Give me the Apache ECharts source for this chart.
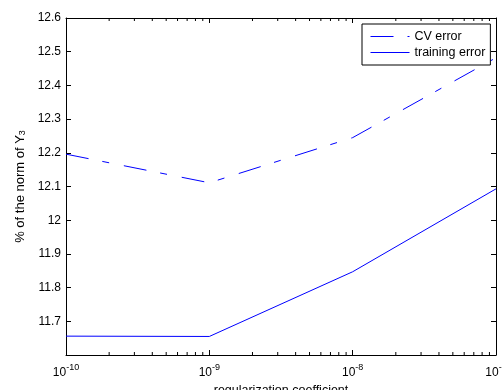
<!DOCTYPE html>
<html>
<head>
<meta charset="utf-8">
<script src="https://cdn.jsdelivr.net/npm/echarts@6/dist/echarts.min.js"></script>
<style>
  html, body { margin: 0; padding: 0; background: #fff; }
  #main { width: 502px; height: 390px; }
</style>
</head>
<body>
<div id="main"></div>
<script>
// regularization coefficients (x, log scale)
const coefficients = [1e-10, 1e-9, 1e-8, 1e-7];
// % of the norm of Y3
const cvError = [12.196, 12.111, 12.245, 12.482];
const trainingError = [11.656, 11.655, 11.847, 12.093];
// y axis range and step
const yMin = 11.6;
const yMax = 12.6;
const yStep = 0.1;
// minor ticks of the log axis
const minorTicks = [
  2e-10, 3e-10, 4e-10, 5e-10, 6e-10, 7e-10, 8e-10, 9e-10,
  2e-9, 3e-9, 4e-9, 5e-9, 6e-9, 7e-9, 8e-9, 9e-9,
  2e-8, 3e-8, 4e-8, 5e-8, 6e-8, 7e-8, 8e-8, 9e-8
];

const FONT = 'Liberation Sans, Arial, sans-serif';
const BLUE = '#0000ff';

const chart = echarts.init(document.getElementById('main'), null, { renderer: 'canvas' });

function powLabel(v) {
  const e = Math.round(Math.log10(v));
  return '{b|10}{s|' + e + '}';
}

const xCommon = {
  type: 'log',
  logBase: 10,
  min: coefficients[0],
  max: coefficients[coefficients.length - 1],
  axisLine: { show: true, lineStyle: { color: '#000', width: 1 } },
  axisTick: { show: true, inside: true, length: 5, lineStyle: { color: '#000' } },
  splitLine: { show: false },
  minorTick: { show: false }
};

const yCommon = {
  type: 'value',
  min: yMin,
  max: yMax,
  interval: yStep,
  axisLine: { show: true, lineStyle: { color: '#000', width: 1 } },
  axisTick: { show: true, inside: true, length: 5, lineStyle: { color: '#000' } },
  splitLine: { show: false }
};

const option = {
  animation: false,
  backgroundColor: '#fff',
  textStyle: { fontFamily: FONT },
  grid: { left: 66, right: 6, top: 18, bottom: 35, containLabel: false, outerBoundsMode: 'none' },
  legend: {
    data: ['CV error', 'training error'],
    orient: 'vertical',
    left: 362,
    top: 24,
    padding: [6, 5, 6, 8],
    itemWidth: 39,
    itemHeight: 14,
    itemGap: 3,
    backgroundColor: '#fff',
    borderColor: '#000',
    borderWidth: 1,
    borderRadius: 0,
    itemStyle: { color: 'rgba(0,0,0,0)', borderWidth: 0, opacity: 0 },
    lineStyle: { width: 1 },
    textStyle: { fontFamily: FONT, fontSize: 12.5, color: '#000' }
  },
  xAxis: [
    Object.assign({}, xCommon, {
      position: 'bottom',
      name: 'regularization coefficient',
      nameLocation: 'middle',
      nameGap: 27,
      nameTextStyle: { fontFamily: FONT, fontSize: 12.5, color: '#000' },
      axisLabel: {
        margin: 8,
        formatter: powLabel,
        rich: {
          b: { fontFamily: FONT, fontSize: 12, color: '#000', verticalAlign: 'bottom' },
          s: { fontFamily: FONT, fontSize: 9, color: '#000', verticalAlign: 'bottom', padding: [0, 0, 7, 0] }
        }
      }
    }),
    Object.assign({}, xCommon, {
      position: 'top',
      axisLabel: { show: false }
    })
  ],
  yAxis: [
    Object.assign({}, yCommon, {
      position: 'left',
      name: '% of the norm of Y{sub|3}',
      nameLocation: 'middle',
      nameGap: 37,
      nameTextStyle: {
        fontFamily: FONT, fontSize: 13, color: '#000',
        rich: { sub: { fontFamily: FONT, fontSize: 9, color: '#000', verticalAlign: 'bottom' } }
      },
      axisLabel: {
        margin: 5,
        fontFamily: FONT,
        fontSize: 12,
        color: '#000',
        showMinLabel: false,
        formatter: function (v) { return v <= yMin + 1e-9 ? '' : String(Math.round(v * 10) / 10); }
      }
    }),
    Object.assign({}, yCommon, {
      position: 'right',
      axisLabel: { show: false }
    })
  ],
  series: [
    {
      name: 'CV error',
      type: 'line',
      xAxisIndex: 0,
      yAxisIndex: 0,
      symbol: 'none',
      color: BLUE,
      lineStyle: { color: BLUE, width: 1, type: [23, 14, 7, 15] },
      data: coefficients.map((c, i) => [c, cvError[i]]),
      z: 3
    },
    {
      name: 'training error',
      type: 'line',
      xAxisIndex: 0,
      yAxisIndex: 0,
      symbol: 'none',
      color: BLUE,
      lineStyle: { color: BLUE, width: 1 },
      data: coefficients.map((c, i) => [c, trainingError[i]]),
      z: 3
    },
    {
      name: 'minor ticks',
      type: 'custom',
      xAxisIndex: 0,
      yAxisIndex: 0,
      silent: true,
      data: minorTicks.map(v => [v, (yMin + yMax) / 2]),
      renderItem: function (params, api) {
        const x = api.coord([api.value(0), api.value(1)])[0];
        const cs = params.coordSys;
        const bottom = cs.y + cs.height;
        const top = cs.y;
        const style = { stroke: '#000', lineWidth: 1 };
        return {
          type: 'group',
          children: [
            { type: 'line', shape: { x1: x, y1: bottom, x2: x, y2: bottom - 3 }, style: style },
            { type: 'line', shape: { x1: x, y1: top, x2: x, y2: top + 3 }, style: style }
          ]
        };
      }
    }
  ]
};

chart.setOption(option);
</script>
</body>
</html>
